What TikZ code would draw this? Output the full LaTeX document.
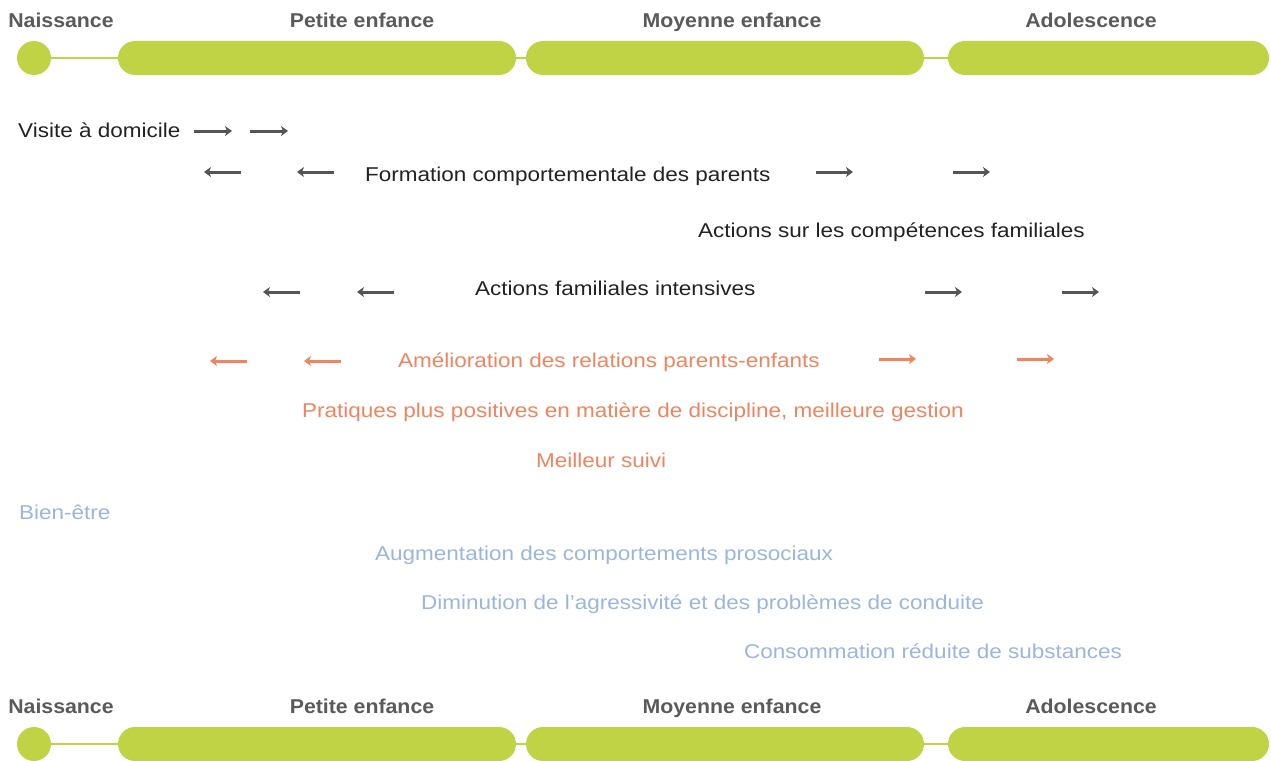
\documentclass[tikz,border=0pt]{standalone}
\usepackage{fontspec}
\setmainfont[FakeStretch=1.125]{Liberation Sans}
\newfontfamily\labfont[FakeStretch=1.065]{Liberation Sans}
\usetikzlibrary{arrows.meta}
\definecolor{lime}{HTML}{BFD345}
\definecolor{txt}{HTML}{222222}
\definecolor{lab}{HTML}{5A5A5A}
\definecolor{arr}{HTML}{555555}
\definecolor{org}{HTML}{F0845E}
\definecolor{blu}{HTML}{9BB5E0}
\tikzset{
  stagelabel/.style={font=\labfont\fontsize{20}{24}\selectfont\bfseries, text=lab, anchor=mid, inner sep=0pt},
  dot/.style={circle, fill=lime, minimum size=34pt, inner sep=0pt},
  bar/.style={rectangle, rounded corners=17pt, fill=lime, minimum height=34pt, inner sep=0pt},
  link/.style={draw=lime, line width=2pt},
  item/.style={font=\fontsize{20}{24}\selectfont, anchor=mid west, inner sep=0pt},
  darkitem/.style={item, text=txt},
  orgitem/.style={item, text=org},
  bluitem/.style={item, text=blu},
  garrow/.style={draw=arr, line width=3pt, -{Stealth[length=7pt,width=10pt,inset=2pt]}},
  oarrow/.style={draw=org, line width=3pt, -{Stealth[length=7pt,width=10pt,inset=2pt]}},
}
\begin{document}
\begin{tikzpicture}[x=1pt,y=-1pt]
\useasboundingbox (0,0) rectangle (1271,760);
% top timeline
\node[stagelabel] (tl1) at (61,25) {Naissance};
\node[stagelabel] (tl2) at (362,25) {Petite enfance};
\node[stagelabel] (tl3) at (732,25) {Moyenne enfance};
\node[stagelabel] (tl4) at (1091,25) {Adolescence};
\node[dot] (td) at (34,58) {};
\node[bar, minimum width=398pt] (tb1) at (317,58) {};
\node[bar, minimum width=398pt] (tb2) at (725,58) {};
\node[bar, minimum width=321pt] (tb3) at (1108.5,58) {};
\draw[link] (td.east) -- (tb1.west);
\draw[link] (tb1.east) -- (tb2.west);
\draw[link] (tb2.east) -- (tb3.west);
% bottom timeline
\node[stagelabel] (bl1) at (61,711) {Naissance};
\node[stagelabel] (bl2) at (362,711) {Petite enfance};
\node[stagelabel] (bl3) at (732,711) {Moyenne enfance};
\node[stagelabel] (bl4) at (1091,711) {Adolescence};
\node[dot] (bd) at (34,744) {};
\node[bar, minimum width=398pt] (bb1) at (317,744) {};
\node[bar, minimum width=398pt] (bb2) at (725,744) {};
\node[bar, minimum width=321pt] (bb3) at (1108.5,744) {};
\draw[link] (bd.east) -- (bb1.west);
\draw[link] (bb1.east) -- (bb2.west);
\draw[link] (bb2.east) -- (bb3.west);
% row 1
\node[darkitem] (vd) at (18,135) {Visite à domicile};
\coordinate (a1s) at (194,131); \coordinate (a1e) at (232,131);
\coordinate (a2s) at (250,131); \coordinate (a2e) at (288,131);
\draw[garrow] (a1s) -- (a1e);
\draw[garrow] (a2s) -- (a2e);
% row 2
\node[darkitem] (fc) at (365,179) {Formation comportementale des parents};
\coordinate (b1s) at (241,172); \coordinate (b1e) at (204,172);
\coordinate (b2s) at (334,172); \coordinate (b2e) at (297,172);
\coordinate (b3s) at (816,172); \coordinate (b3e) at (853,172);
\coordinate (b4s) at (953,172); \coordinate (b4e) at (990,172);
\draw[garrow] (b1s) -- (b1e);
\draw[garrow] (b2s) -- (b2e);
\draw[garrow] (b3s) -- (b3e);
\draw[garrow] (b4s) -- (b4e);
% row 3
\node[darkitem] (cf) at (698,235) {Actions sur les compétences familiales};
% row 4
\node[darkitem] (fi) at (475,293) {Actions familiales intensives};
\coordinate (c1s) at (300,292); \coordinate (c1e) at (263,292);
\coordinate (c2s) at (394,292); \coordinate (c2e) at (357,292);
\coordinate (c3s) at (925,292); \coordinate (c3e) at (962,292);
\coordinate (c4s) at (1062,292); \coordinate (c4e) at (1099,292);
\draw[garrow] (c1s) -- (c1e);
\draw[garrow] (c2s) -- (c2e);
\draw[garrow] (c3s) -- (c3e);
\draw[garrow] (c4s) -- (c4e);
% orange
\node[orgitem] (rp) at (398,365) {Amélioration des relations parents-enfants};
\coordinate (d1s) at (247,361); \coordinate (d1e) at (210,361);
\coordinate (d2s) at (341,361); \coordinate (d2e) at (304,361);
\coordinate (d3s) at (879,359); \coordinate (d3e) at (916,359);
\coordinate (d4s) at (1017,359); \coordinate (d4e) at (1054,359);
\draw[oarrow] (d1s) -- (d1e);
\draw[oarrow] (d2s) -- (d2e);
\draw[oarrow] (d3s) -- (d3e);
\draw[oarrow] (d4s) -- (d4e);
\node[orgitem] (pp) at (302,415) {Pratiques plus positives en matière de discipline, meilleure gestion};
\node[orgitem] (ms) at (536,465) {Meilleur suivi};
% blue
\node[bluitem] (be) at (19,517) {Bien-être};
\node[bluitem] (ap) at (375,558) {Augmentation des comportements prosociaux};
\node[bluitem] (da) at (421,607) {Diminution de l’agressivité et des problèmes de conduite};
\node[bluitem] (cr) at (744,656) {Consommation réduite de substances};
\end{tikzpicture}
\end{document}
